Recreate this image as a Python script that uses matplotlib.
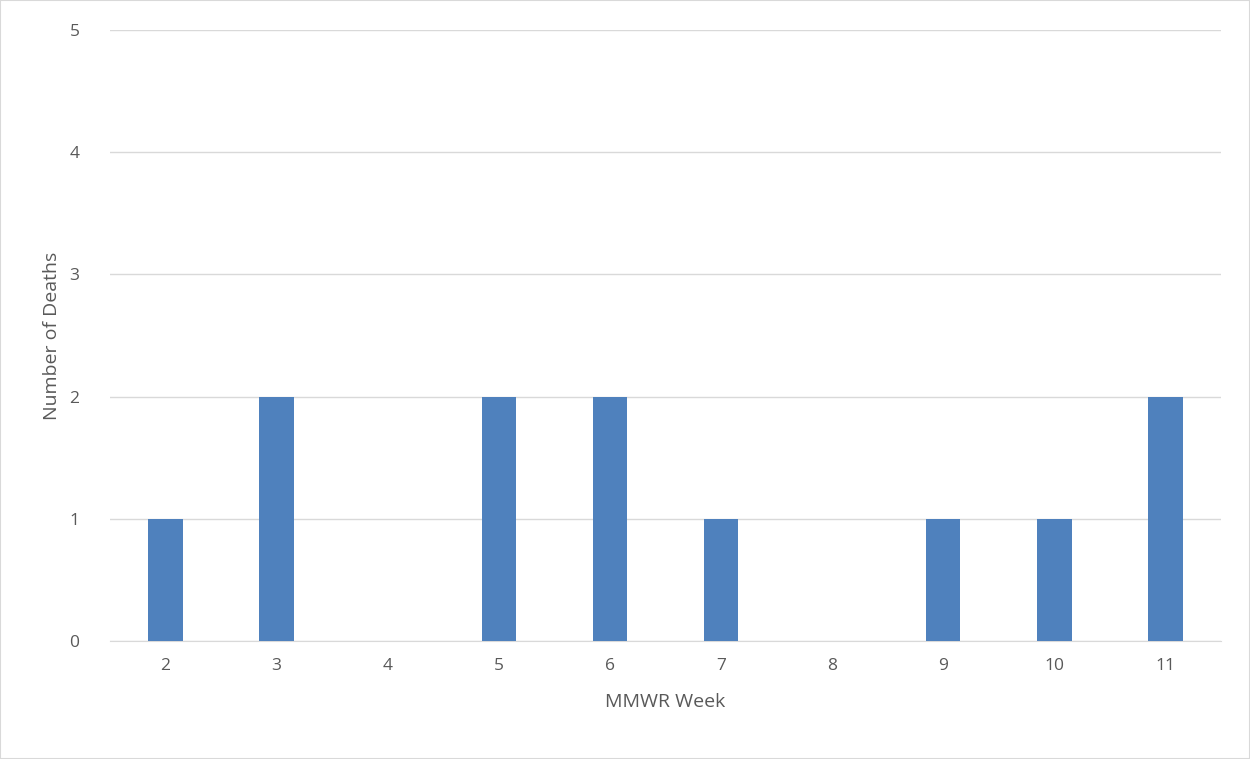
import matplotlib.pyplot as plt
from matplotlib.patches import Rectangle

weeks = ['2', '3', '4', '5', '6', '7', '8', '9', '10', '11']
deaths = [1, 2, 0, 2, 2, 1, 0, 1, 1, 2]

plt.rcParams['font.family'] = ['Open Sans', 'DejaVu Sans']
txt = '#595959'

fig = plt.figure(figsize=(12.5, 7.59), dpi=100)
ax = fig.add_axes([0.088, 0.1555, 0.8888, 0.805])
x = list(range(len(weeks)))
ax.bar(x, deaths, width=0.31, color='#4F81BD', zorder=3)
ax.set_xlim(-0.5, len(weeks) - 0.5)
ax.set_ylim(0, 5)
ax.set_xticks(x)
ax.set_xticklabels(weeks)
ax.set_yticks(range(6))
ax.grid(axis='y', color='#D9D9D9', linewidth=1, zorder=0)
for s in ['top', 'right', 'left']:
    ax.spines[s].set_visible(False)
ax.spines['bottom'].set_color('#D9D9D9')
ax.tick_params(length=0, labelsize=12.5, colors=txt, pad=12)
ax.tick_params(axis='y', pad=22)
ax.set_xlabel('MMWR Week', fontsize=14, color=txt, labelpad=14)
ax.set_ylabel('Number of Deaths', fontsize=14, color=txt, labelpad=6)
fig.patches.append(Rectangle((0, 0), 1, 1, transform=fig.transFigure,
                             fill=False, edgecolor='#D9D9D9', linewidth=1.5))
fig.savefig('out.png', dpi=100)
